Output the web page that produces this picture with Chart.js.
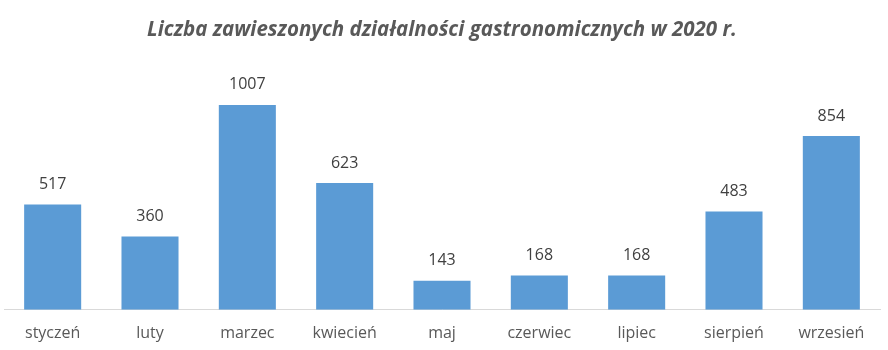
<!DOCTYPE html>
<html>
<head>
    <meta charset="utf-8" />
    <title>Liczba zawieszonych działalności gastronomicznych w 2020 r.</title>
    <script src="https://cdn.jsdelivr.net/npm/chart.js"></script>
    <style>
        html, body { margin: 0; padding: 0; background: #fff; }
        #wrap { width: 888px; height: 350px; position: relative; }
    </style>
</head>
<body>
    <div id="wrap"><canvas id="chart"></canvas></div>
    <script>
        const months = ['styczeń', 'luty', 'marzec', 'kwiecień', 'maj', 'czerwiec', 'lipiec', 'sierpień', 'wrzesień'];
        const suspended = [517, 360, 1007, 623, 143, 168, 168, 483, 854];
        const chartTitle = 'Liczba zawieszonych działalności gastronomicznych w 2020 r.';

        // values above bars (no datalabels plugin available)
        const valueLabels = {
            id: 'valueLabels',
            afterDatasetsDraw(chart) {
                const ctx = chart.ctx;
                const meta = chart.getDatasetMeta(0);
                ctx.save();
                ctx.font = '16px "Open Sans", sans-serif';
                ctx.fillStyle = '#404040';
                ctx.textAlign = 'center';
                ctx.textBaseline = 'middle';
                meta.data.forEach((bar, i) => {
                    ctx.fillText(String(suspended[i]), bar.x, bar.y - 20);
                });
                ctx.restore();
            }
        };

        new Chart(document.getElementById('chart'), {
            type: 'bar',
            data: {
                labels: months,
                datasets: [{
                    data: suspended,
                    backgroundColor: '#5B9BD5',
                    barPercentage: 0.586,
                    categoryPercentage: 1.0
                }]
            },
            options: {
                responsive: true,
                maintainAspectRatio: false,
                animation: false,
                layout: { padding: { left: 4, right: 8, top: 0, bottom: 1 } },
                plugins: {
                    legend: { display: false },
                    tooltip: { enabled: false },
                    title: {
                        display: true,
                        text: chartTitle,
                        color: '#595959',
                        font: { family: '"Open Sans", sans-serif', size: 20.5, weight: 'bold', style: 'italic' },
                        padding: { top: 18, bottom: 23 }
                    }
                },
                scales: {
                    x: {
                        grid: { display: false },
                        border: { color: '#d9d9d9', width: 1 },
                        ticks: {
                            color: '#595959',
                            font: { family: '"Open Sans", sans-serif', size: 16 },
                            padding: 6,
                            maxRotation: 0
                        }
                    },
                    y: {
                        display: false,
                        min: 0,
                        max: 1200
                    }
                }
            },
            plugins: [valueLabels]
        });
    </script>
</body>
</html>
